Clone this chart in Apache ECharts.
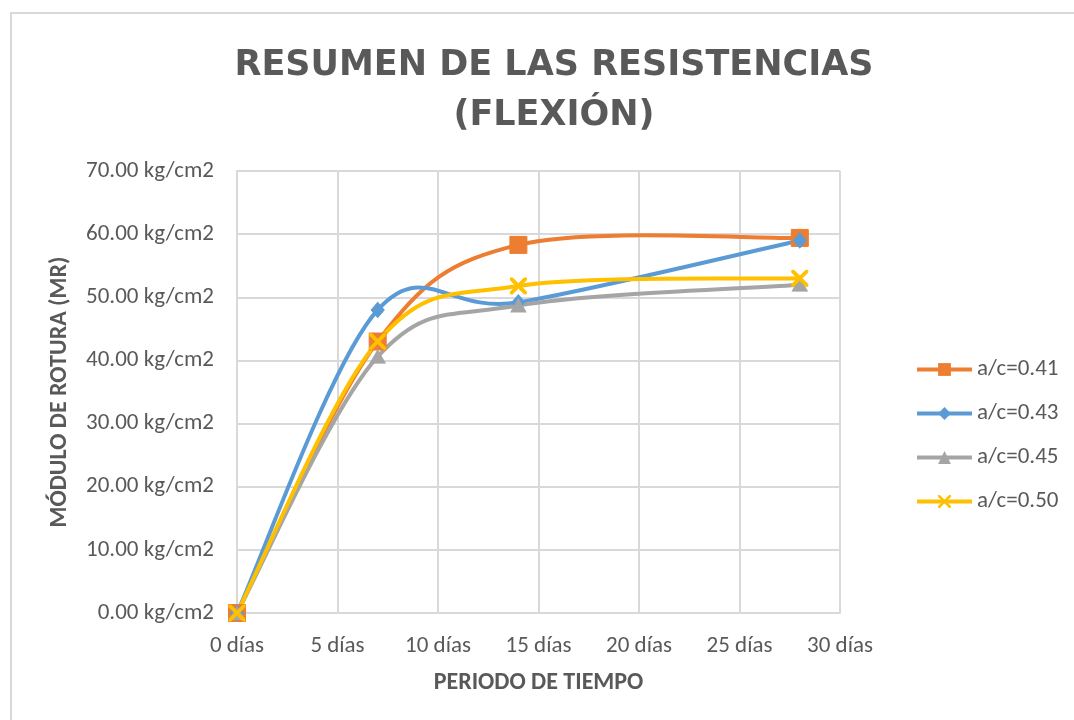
<!DOCTYPE html>
<html><head><meta charset="utf-8">
<script src="https://cdn.jsdelivr.net/npm/echarts@6/dist/echarts.min.js"></script>
<style>
html,body{margin:0;padding:0;background:#fff;}
#wrap{position:absolute;left:10px;top:12px;width:1080px;height:720px;border:2px solid #D9D9D9;}
#c{position:absolute;left:0;top:0;width:1074px;height:720px;}
</style></head>
<body>
<div id="wrap"></div>
<div id="c"></div>
<script>
const days = [0, 7, 14, 28];
const seriesNames = ['a/c=0.41', 'a/c=0.43', 'a/c=0.45', 'a/c=0.50'];
const s041 = [0, 43.0, 58.3, 59.4];
const s043 = [0, 48.0, 49.2, 59.0];
const s045 = [0, 40.6, 48.7, 52.0];
const s050 = [0, 43.0, 51.8, 53.0];
const xTicks = [0, 5, 10, 15, 20, 25, 30];
const yTicks = [0, 10, 20, 30, 40, 50, 60, 70];

const font = 'Carlito, Calibri, "Open Sans", sans-serif';
const txt = '#595959';
const colors = ['#ED7D31', '#5B9BD5', '#A5A5A5', '#FFC000'];
const xPath = 'path://M0,0 L1.4,0 L5,3.6 L8.6,0 L10,0 L10,1.4 L6.4,5 L10,8.6 L10,10 L8.6,10 L5,6.4 L1.4,10 L0,10 L0,8.6 L3.6,5 L0,1.4 Z';
const symbols = ['rect', 'diamond', 'triangle', xPath];
const sizes = [[17,17], [13,15], [15,13], [16,16]];
const vals = [s041, s043, s045, s050];

function curveSeries(arr, i) {
  const n = days.length;
  const cl = k => Math.max(0, Math.min(n - 1, k));
  return {
    name: '_curve' + i, type: 'custom', z: 1 + i, silent: true,
    data: days.map((d, j) => [d, arr[j]]),
    encode: {x: 0, y: 1},
    renderItem: (params, api) => {
      const k = params.dataIndex;
      if (k >= n - 1) return null;
      const p = m => api.coord([days[cl(m)], arr[cl(m)]]);
      const p0 = p(k - 1), p1 = p(k), p2 = p(k + 1), p3 = p(k + 2);
      return {
        type: 'bezierCurve',
        shape: {
          x1: p1[0], y1: p1[1], x2: p2[0], y2: p2[1],
          cpx1: p1[0] + (p2[0] - p0[0]) / 6, cpy1: p1[1] + (p2[1] - p0[1]) / 6,
          cpx2: p2[0] - (p3[0] - p1[0]) / 6, cpy2: p2[1] - (p3[1] - p1[1]) / 6
        },
        style: {stroke: colors[i], lineWidth: 4, fill: null, lineCap: 'round'}
      };
    }
  };
}

const chart = echarts.init(document.getElementById('c'), null, {renderer: 'canvas'});
chart.setOption({
  animation: false,
  backgroundColor: 'transparent',
  title: {
    text: 'RESUMEN DE LAS RESISTENCIAS\n(FLEXIÓN)',
    left: 549, top: 36, textAlign: 'center',
    textStyle: {fontFamily: '"DejaVu Sans", sans-serif', fontSize: 35, fontWeight: 'bold', color: txt, lineHeight: 50}
  },
  legend: {
    orient: 'vertical', left: 910, top: 353, itemGap: 21,
    itemWidth: 55, itemHeight: 16,
    lineStyle: {opacity: 1, width: 4},
    textStyle: {fontFamily: font, fontSize: 23, color: txt, lineHeight: 23},
    data: seriesNames
  },
  grid: {left: 237, right: 234, top: 171, bottom: 107},
  xAxis: {
    type: 'value', min: 0, max: 30, interval: 5,
    name: 'PERIODO DE TIEMPO', nameLocation: 'middle', nameGap: 58,
    nameTextStyle: {fontFamily: font, fontSize: 24, fontWeight: 'bold', color: txt},
    axisLine: {show: true, lineStyle: {color: '#D9D9D9', width: 2}},
    axisTick: {show: false},
    axisLabel: {fontFamily: font, fontSize: 23, color: txt, margin: 22,
      formatter: v => xTicks.includes(v) ? v + ' días' : ''},
    splitLine: {show: true, lineStyle: {color: '#D9D9D9', width: 2}}
  },
  yAxis: {
    type: 'value', min: 0, max: 70, interval: 10,
    name: 'MÓDULO DE ROTURA (MR)', nameLocation: 'middle', nameGap: 165, nameRotate: 90,
    nameTextStyle: {fontFamily: font, fontSize: 24, fontWeight: 'bold', color: txt},
    axisLine: {show: true, lineStyle: {color: '#D9D9D9', width: 2}},
    axisTick: {show: false},
    axisLabel: {fontFamily: font, fontSize: 23, color: txt, margin: 23,
      formatter: v => yTicks.includes(v) ? v.toFixed(2) + ' kg/cm2' : ''},
    splitLine: {show: true, lineStyle: {color: '#D9D9D9', width: 2}}
  },
  series: vals.map((arr, i) => ({
    name: seriesNames[i], type: 'line', smooth: false,
    data: days.map((d, j) => [d, arr[j]]),
    symbol: symbols[i], symbolSize: sizes[i],
    showAllSymbol: true,
    lineStyle: {color: colors[i], width: 4, opacity: 0},
    itemStyle: {color: colors[i], borderColor: colors[i]},
    z: 10 + i
  })).concat(vals.map((arr, i) => curveSeries(arr, i)))
});
</script>
</body></html>
